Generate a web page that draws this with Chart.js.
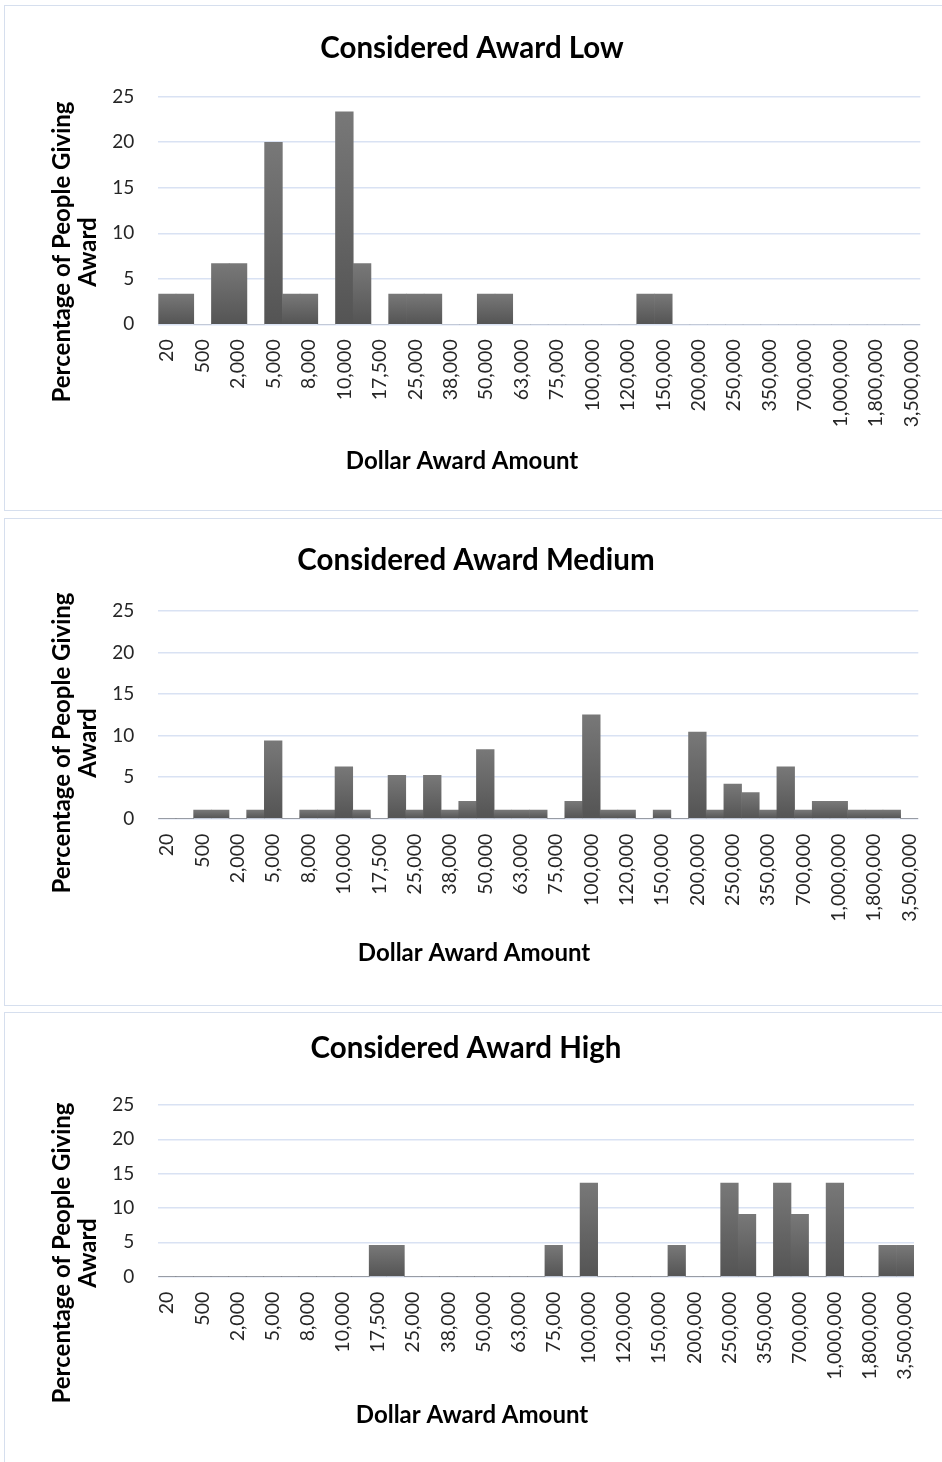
<!DOCTYPE html>
<html>
<head>
<meta charset="utf-8">
<title>Considered Award</title>
<script src="https://cdn.jsdelivr.net/npm/chart.js@4"></script>
<style>
  body { margin: 0; background: #fff; width: 942px; height: 1462px; overflow: hidden; position: relative; }
  .panel { position: absolute; left: 4px; width: 960px; border: 1px solid #d6dfee; background: #fff; }
  .panel canvas { display: block; }
</style>
</head>
<body>
<div class="panel" style="top:5px;height:504px"><canvas id="lowChart" width="937" height="504"></canvas></div>
<div class="panel" style="top:518px;height:486px"><canvas id="mediumChart" width="937" height="486"></canvas></div>
<div class="panel" style="top:1012px;height:460px"><canvas id="highChart" width="937" height="449"></canvas></div>

<script>
// Dollar amounts shown under the axis (every other bin is labelled)
const tickLabels = ['20', '500', '2,000', '5,000', '8,000', '10,000', '17,500', '25,000', '38,000',
  '50,000', '63,000', '75,000', '100,000', '120,000', '150,000', '200,000', '250,000', '350,000',
  '700,000', '1,000,000', '1,800,000', '3,500,000'];

// Percentage of people giving each award, one value per bin (43 bins)
const lowValues = [3.33, 3.33, 0, 6.67, 6.67, 0, 20, 3.33, 3.33, 0,
  23.33, 6.67, 0, 3.33, 3.33, 3.33, 0, 0, 3.33, 3.33,
  0, 0, 0, 0, 0, 0, 0, 3.33, 3.33, 0,
  0, 0, 0, 0, 0, 0, 0, 0, 0, 0,
  0, 0, 0];

const mediumValues = [0, 0, 1.04, 1.04, 0, 1.04, 9.38, 0, 1.04, 1.04,
  6.25, 1.04, 0, 5.21, 1.04, 5.21, 1.04, 2.08, 8.33, 1.04,
  1.04, 1.04, 0, 2.08, 12.5, 1.04, 1.04, 0, 1.04, 0,
  10.42, 1.04, 4.17, 3.13, 1.04, 6.25, 1.04, 2.08, 2.08, 1.04,
  1.04, 1.04, 0];

const highValues = [0, 0, 0, 0, 0, 0, 0, 0, 0, 0,
  0, 0, 4.55, 4.55, 0, 0, 0, 0, 0, 0,
  0, 0, 4.55, 0, 13.64, 0, 0, 0, 0, 4.55,
  0, 0, 13.64, 9.09, 0, 13.64, 9.09, 0, 13.64, 0,
  0, 4.55, 4.55];

const yTicks = [0, 5, 10, 15, 20, 25];

// bins: labelled ones alternate with unlabelled ones
const categories = [];
tickLabels.forEach((t, i) => {
    categories.push(t);
    if (i < tickLabels.length - 1) categories.push('');
});

const FONT = 'Lato, "Open Sans", sans-serif';
const gridBlue = '#d9e2f3';

// grey gradient for every bar, darker toward the base
function barFill(context) {
    const chart = context.chart;
    if (!chart.chartArea || context.type !== 'data') return '#666666';
    const y = chart.scales.y;
    const top = y.getPixelForValue(context.parsed.y);
    const base = y.getPixelForValue(0);
    if (!(base - top > 1)) return '#666666';
    const g = chart.ctx.createLinearGradient(0, top, 0, base);
    g.addColorStop(0, '#787878');
    g.addColorStop(1, '#545454');
    return g;
}

// axis titles placed like the spreadsheet does it (not centred on the plot)
const axisTitles = {
    id: 'axisTitles',
    afterDraw(chart, args, opts) {
        const ctx = chart.ctx;
        ctx.save();
        ctx.fillStyle = '#000';
        ctx.font = 'bold ' + opts.size + 'px ' + FONT;
        ctx.textAlign = 'center';
        ctx.textBaseline = 'middle';
        ctx.fillText(opts.xText, opts.xAt[0], opts.xAt[1]);
        ctx.translate(opts.yAt[0], opts.yAt[1]);
        ctx.rotate(-Math.PI / 2);
        opts.yText.forEach((line, i) => ctx.fillText(line, 0, i * opts.lineGap));
        ctx.restore();
    }
};

function makeChart(id, titleText, values, g) {
    const canvas = document.getElementById(id);
    const titleLH = 34;
    return new Chart(canvas.getContext('2d'), {
        type: 'bar',
        data: {
            labels: categories,
            datasets: [{
                data: values,
                backgroundColor: barFill,
                borderWidth: 0,
                categoryPercentage: 1.0,
                barPercentage: 1.0
            }]
        },
        plugins: [axisTitles],
        options: {
            responsive: false,
            animation: false,
            layout: { padding: { left: g.padLeft, right: g.padRight, top: 0, bottom: 0 } },
            plugins: {
                legend: { display: false },
                tooltip: { enabled: false },
                title: {
                    display: true,
                    text: titleText,
                    color: '#000',
                    font: { family: FONT, size: 29.5, weight: 'bold', lineHeight: titleLH / 29.5 },
                    padding: { top: g.titleY - titleLH / 2, bottom: g.top - g.titleY - titleLH / 2 }
                },
                axisTitles: {
                    size: 24,
                    xText: 'Dollar Award Amount',
                    xAt: g.xTitle,
                    yText: ['Percentage of People Giving', 'Award'],
                    yAt: g.yTitle,
                    lineGap: 26
                }
            },
            scales: {
                x: {
                    grid: { display: false },
                    border: { display: false },
                    ticks: {
                        autoSkip: false,
                        maxRotation: 90,
                        minRotation: 90,
                        padding: 7,
                        color: '#262626',
                        font: { family: FONT, size: 19.5 }
                    },
                    afterFit: (scale) => { scale.height = g.h - g.bottom; }
                },
                y: {
                    min: 0,
                    max: 25,
                    afterBuildTicks: (scale) => { scale.ticks = yTicks.map(v => ({ value: v })); },
                    grid: { color: gridBlue, lineWidth: 1.5, drawTicks: false },
                    border: { display: false },
                    ticks: {
                        padding: 24,
                        color: '#262626',
                        font: { family: FONT, size: 19 }
                    },
                    afterFit: (scale) => { scale.width = 153.3 - g.padLeft; }
                }
            }
        }
    });
}

makeChart('lowChart', 'Considered Award Low', lowValues,
    { h: 504, top: 90.7, bottom: 318.3, titleY: 42, padLeft: 13, padRight: 16,
      xTitle: [457, 455], yTitle: [57, 246] });
makeChart('mediumChart', 'Considered Award Medium', mediumValues,
    { h: 486, top: 92, bottom: 299.7, titleY: 41, padLeft: 28.7, padRight: 23.7,
      xTitle: [469, 434], yTitle: [57, 224] });
makeChart('highChart', 'Considered Award High', highValues,
    { h: 449, top: 92, bottom: 263.7, titleY: 35, padLeft: 13, padRight: 28,
      xTitle: [467, 402], yTitle: [57, 240] });
</script>
</body>
</html>
